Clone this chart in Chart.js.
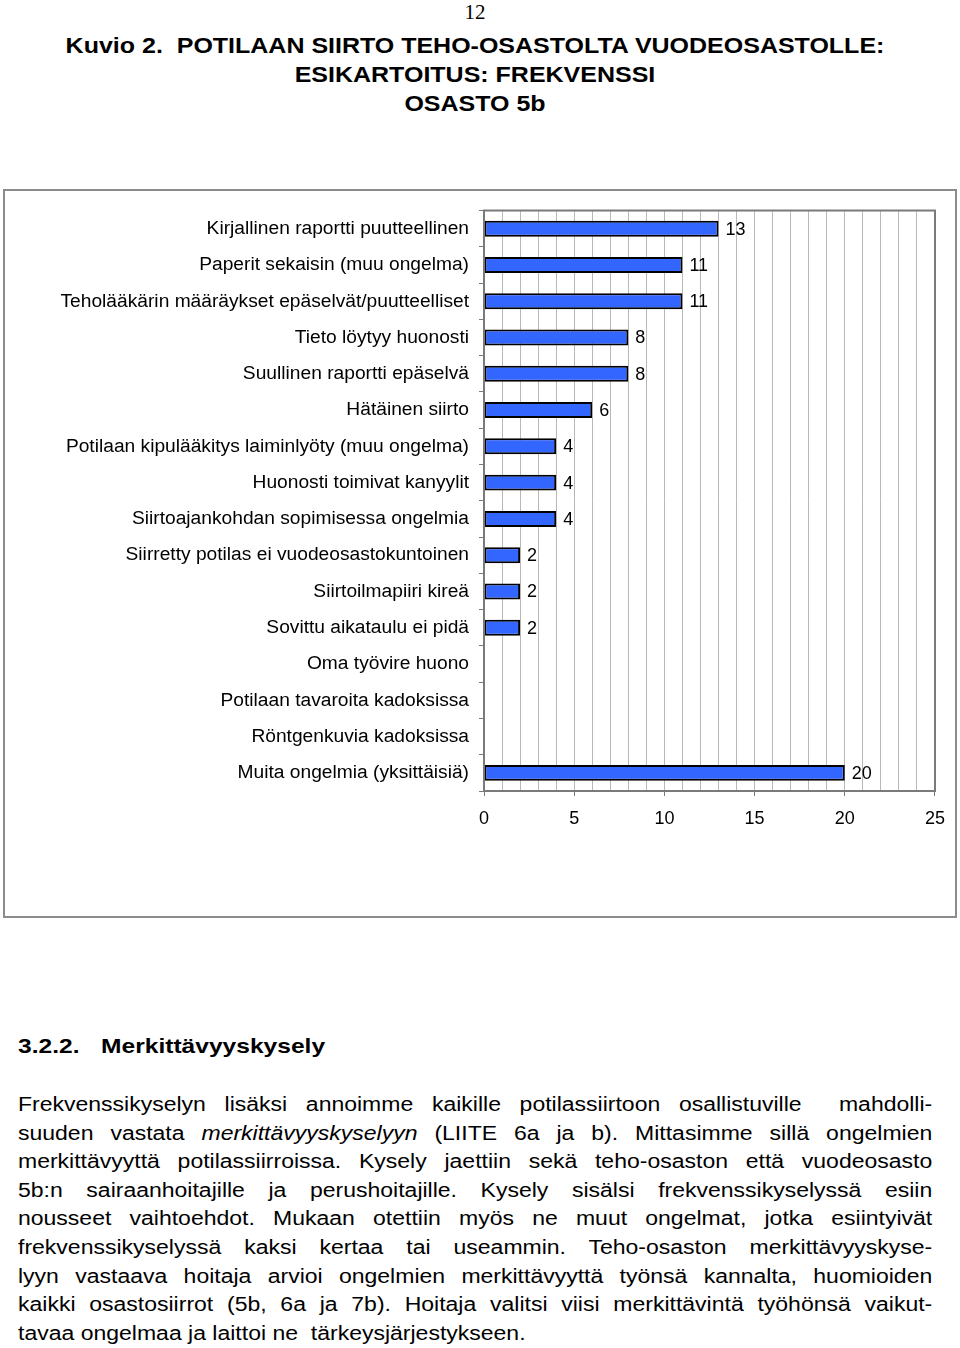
<!DOCTYPE html>
<html>
<head>
<meta charset="utf-8">
<script src="https://cdn.jsdelivr.net/npm/chart.js@4"></script>
<style>
  html, body { margin: 0; padding: 0; background: #fff; }
  body { width: 960px; height: 1348px; position: relative; overflow: hidden; font-family: "Liberation Sans", Arial, sans-serif; color: #000; }
  .pagenum { position: absolute; left: 0; width: 950px; top: 0; text-align: center; font-family: "Liberation Serif", "Times New Roman", serif; font-size: 21px; }
  .title { position: absolute; left: 57px; width: 836px; top: 31px; text-align: center; font-weight: bold; font-size: 22px; line-height: 29px; transform: scaleX(1.136); transform-origin: 50% 0; }
  .box { position: absolute; left: 3px; top: 189px; width: 954px; height: 729px; box-sizing: border-box; border: 2px solid #8c8c8c; }
  #chart { position: absolute; left: 3px; top: 189px; }
  .h3 { position: absolute; left: 18px; top: 1034px; font-weight: bold; font-size: 21px; transform: scaleX(1.17); transform-origin: 0 0; white-space: nowrap; }
  .h3 span { display: inline-block; width: 71px; }
  .para { position: absolute; left: 18px; width: 795px; top: 1090px; font-size: 20px; line-height: 28.6px; transform: scaleX(1.15); transform-origin: 0 0; }
  .para div { text-align: justify; text-align-last: justify; white-space: nowrap; }
  .para div.last { text-align-last: left; }
</style>
</head>
<body>
<div class="pagenum">12</div>
<div class="title">Kuvio 2.&nbsp; POTILAAN SIIRTO TEHO-OSASTOLTA VUODEOSASTOLLE:<br>ESIKARTOITUS: FREKVENSSI<br>OSASTO 5b</div>
<div class="box"></div>
<canvas id="chart" width="954" height="729"></canvas>
<div class="h3"><span>3.2.2.</span>Merkittävyyskysely</div>
<div class="para">
  <div>Frekvenssikyselyn lisäksi annoimme kaikille potilassiirtoon osallistuville&nbsp; mahdolli-</div>
  <div>suuden vastata <i>merkittävyyskyselyyn</i> (LIITE 6a ja b). Mittasimme sillä ongelmien</div>
  <div>merkittävyyttä potilassiirroissa. Kysely jaettiin sekä teho-osaston että vuodeosasto</div>
  <div>5b:n sairaanhoitajille ja perushoitajille. Kysely sisälsi frekvenssikyselyssä esiin</div>
  <div>nousseet vaihtoehdot. Mukaan otettiin myös ne muut ongelmat, jotka esiintyivät</div>
  <div>frekvenssikyselyssä kaksi kertaa tai useammin. Teho-osaston merkittävyyskyse-</div>
  <div>lyyn vastaava hoitaja arvioi ongelmien merkittävyyttä työnsä kannalta, huomioiden</div>
  <div>kaikki osastosiirrot (5b, 6a ja 7b). Hoitaja valitsi viisi merkittävintä työhönsä vaikut-</div>
  <div class="last">tavaa ongelmaa ja laittoi ne&nbsp; tärkeysjärjestykseen.</div>
</div>
<script>
const categories = [
  "Kirjallinen raportti puutteellinen",
  "Paperit sekaisin (muu ongelma)",
  "Teholääkärin määräykset epäselvät/puutteelliset",
  "Tieto löytyy huonosti",
  "Suullinen raportti epäselvä",
  "Hätäinen siirto",
  "Potilaan kipulääkitys laiminlyöty (muu ongelma)",
  "Huonosti toimivat kanyylit",
  "Siirtoajankohdan sopimisessa ongelmia",
  "Siirretty potilas ei vuodeosastokuntoinen",
  "Siirtoilmapiiri kireä",
  "Sovittu aikataulu ei pidä",
  "Oma työvire huono",
  "Potilaan tavaroita kadoksissa",
  "Röntgenkuvia kadoksissa",
  "Muita ongelmia (yksittäisiä)",
];
const counts = [13, 11, 11, 8, 8, 6, 4, 4, 4, 2, 2, 2, 0, 0, 0, 20];
const axisMax = 25;
const labelStep = 5;

const FONT = "'Liberation Sans', Arial, sans-serif";

// frame round the plot area and the value labels at bar ends
const extras = {
  id: "extras",
  afterDatasetsDraw(chart) {
    const c = chart.ctx;
    const a = chart.chartArea;
    c.save();
    c.strokeStyle = "#7a7a7a";
    c.lineWidth = 2;
    c.strokeRect(a.left, a.top, a.right - a.left, a.bottom - a.top);
    c.fillStyle = "#000";
    c.font = "18px " + FONT;
    c.textBaseline = "middle";
    c.textAlign = "left";
    chart.getDatasetMeta(0).data.forEach((bar, i) => {
      const v = counts[i];
      if (!v) return;
      c.fillText(String(v), bar.x + 7, bar.y + 1);
    });
    c.restore();
  },
};

new Chart(document.getElementById("chart"), {
  type: "bar",
  data: {
    labels: categories,
    datasets: [{
      data: counts,
      backgroundColor: "#3366ff",
      borderColor: "#000",
      borderWidth: (ctx) => (ctx.raw ? 2 : 0),
      borderSkipped: false,
      categoryPercentage: 1,
      barPercentage: 0.44,
    }],
  },
  options: {
    indexAxis: "y",
    responsive: false,
    animation: false,
    layout: { padding: { top: 16, right: 21, left: 0, bottom: 0 } },
    plugins: { legend: { display: false }, tooltip: { enabled: false } },
    scales: {
      x: {
        min: 0,
        max: axisMax,
        border: { display: false },
        grid: {
          color: "#b8b8b8",
          lineWidth: 1,
          tickLength: 5,
          tickColor: (ctx) => (ctx.tick && ctx.tick.value % labelStep === 0 ? "#7a7a7a" : "rgba(0,0,0,0)"),
        },
        ticks: {
          stepSize: 1,
          autoSkip: false,
          maxRotation: 0,
          padding: 12,
          color: "#000",
          font: { family: FONT, size: 18 },
          callback: (v) => (v % labelStep === 0 ? String(v) : ""),
        },
        afterFit: (s) => { s.height = 127; },
      },
      y: {
        border: { display: false },
        grid: { drawOnChartArea: false, tickLength: 5, color: "#7a7a7a" },
        ticks: {
          autoSkip: false,
          padding: 10,
          color: "#000",
          font: { family: FONT, size: 19.2 },
        },
        afterFit: (s) => { s.width = 481; },
      },
    },
  },
  plugins: [extras],
});
</script>
</body>
</html>
